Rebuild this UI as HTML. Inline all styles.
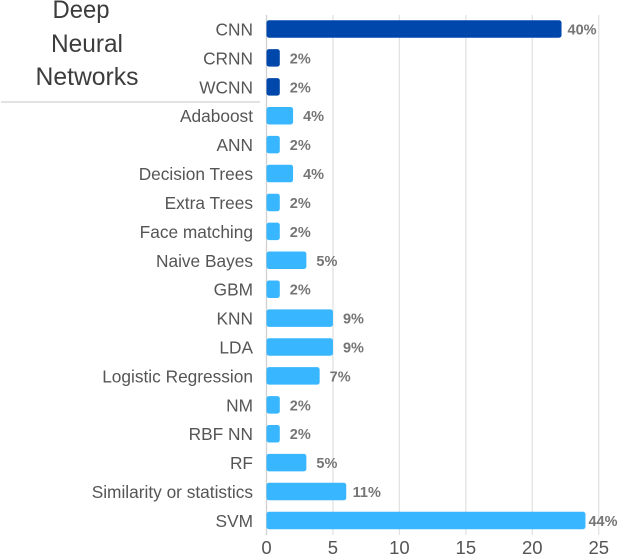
<!DOCTYPE html>
<html>
<head>
<meta charset="utf-8">
<style>
html,body{margin:0;padding:0;background:#fff;}
#chart{display:block;width:618px;height:556px;filter:blur(0.3px);}
text{font-family:"Liberation Sans","DejaVu Sans",sans-serif;}
</style>
</head>
<body>
<svg id="chart" xmlns="http://www.w3.org/2000/svg" width="618" height="556" viewBox="0 0 618 556">
  <g id="grid"></g>
  <g id="bars"></g>
  <g id="cats"></g>
  <g id="vals"></g>
  <g id="ticks"></g>
  <g fill="#3c3c3c" font-size="25" text-anchor="middle">
    <text x="81" y="18" textLength="57" lengthAdjust="spacingAndGlyphs">Deep</text>
    <text x="87" y="52" textLength="72" lengthAdjust="spacingAndGlyphs">Neural</text>
    <text x="87" y="85" textLength="103" lengthAdjust="spacingAndGlyphs">Networks</text>
  </g>
  <line x1="1" x2="260" y1="102" y2="102" stroke="#c4c4c4" stroke-width="1"></line>
</svg>
<script>
const categories = ["CNN","CRNN","WCNN","Adaboost","ANN","Decision Trees","Extra Trees","Face matching","Naive Bayes","GBM","KNN","LDA","Logistic Regression","NM","RBF NN","RF","Similarity or statistics","SVM"];
const values = [22.2,1,1,2,1,2,1,1,3,1,5,5,4,1,1,3,6,24];
const valueLabels = ["40%","2%","2%","4%","2%","4%","2%","2%","5%","2%","9%","9%","7%","2%","2%","5%","11%","44%"];
const deepGroupCount = 3;
const tickValues = [0,5,10,15,20,25];

const NS = "http://www.w3.org/2000/svg";
const xScale = function (v) { return 266.5 + v * 13.29; };
const yScale = function (i) { return 29 + i * 28.91; };
const barH = 17.5;

function mk(parent, tag, attrs) {
  const el = document.createElementNS(NS, tag);
  for (const k in attrs) el.setAttribute(k, attrs[k]);
  document.getElementById(parent).appendChild(el);
  return el;
}

tickValues.forEach(function (t) {
  const x = xScale(t);
  const g = mk("grid", "line", {x1: x, x2: x, y1: 15, y2: 535, stroke: t === 0 ? "#d0d0d0" : "#e2e2e2", "stroke-width": 1.3});
  
  
  const l = mk("ticks", "text", {x: x, y: 554, "text-anchor": "middle", "font-size": 18.5, fill: "#555"});
  l.textContent = t;
  
  
});

categories.forEach(function (c, i) {
  const y = yScale(i);
  const r = mk("bars", "rect", {x: xScale(0), y: y - barH / 2, width: xScale(values[i]) - xScale(0), height: barH, rx: 2.5, fill: i < deepGroupCount ? "#0047ab" : "#38b6ff"});
  
  
  const t = mk("cats", "text", {x: 253, y: y + 6.5, "text-anchor": "end", "font-size": 17.3, fill: "#555"});
  t.textContent = c;
  
  
  const v = mk("vals", "text", {x: Math.min(xScale(values[i]) + 20.5, 603), y: y + 5.5, "text-anchor": "middle", "font-size": 14.5, "font-weight": "bold", fill: "#757575"});
  v.textContent = valueLabels[i];
  
  
});
</script>
</body>
</html>
